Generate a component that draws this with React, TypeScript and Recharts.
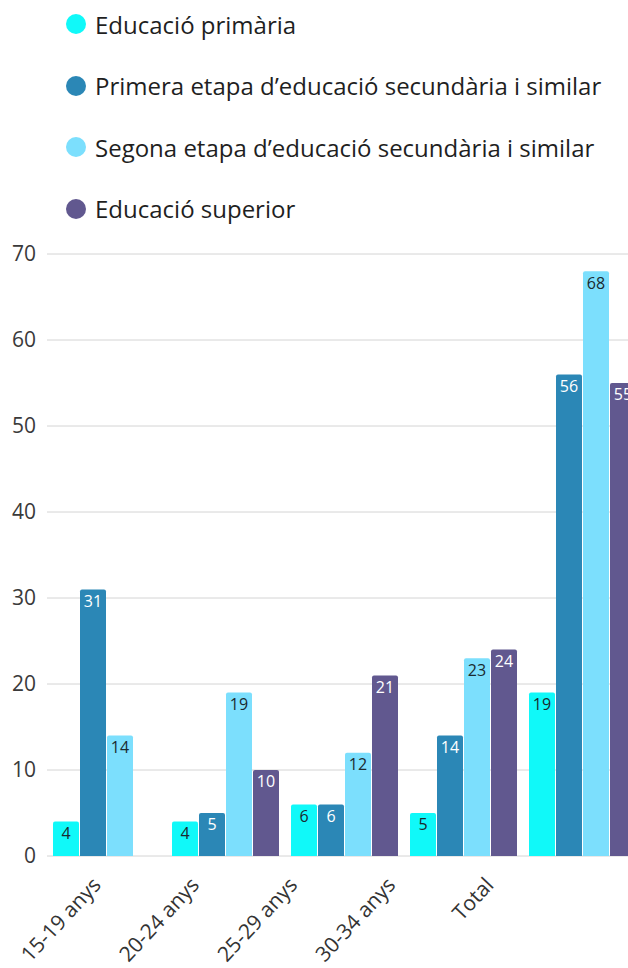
import React from "react";
import { BarChart, Bar, XAxis, YAxis, CartesianGrid, Legend, LabelList } from "recharts";

const FONT = "'Open Sans', sans-serif";

const groups = ["15-19 anys", "20-24 anys", "25-29 anys", "30-34 anys", "Total"];
const primaria = [4, 4, 6, 5, 19];
const primeraEtapa = [31, 5, 6, 14, 56];
const segonaEtapa = [14, 19, 12, 23, 68];
const superior = [0, 10, 21, 24, 55];
const yTicks = [0, 10, 20, 30, 40, 50, 60, 70];

const series = [
  { key: "primaria", name: "Educació primària", color: "#10F9F9", labelColor: "#1b2a30" },
  { key: "primeraEtapa", name: "Primera etapa d’educació secundària i similar", color: "#2B87B6", labelColor: "#ffffff" },
  { key: "segonaEtapa", name: "Segona etapa d’educació secundària i similar", color: "#7CDFFD", labelColor: "#1b2a30" },
  { key: "superior", name: "Educació superior", color: "#61588F", labelColor: "#ffffff" },
];

const data = groups.map((g, i) => ({
  group: g,
  primaria: primaria[i],
  primeraEtapa: primeraEtapa[i],
  segonaEtapa: segonaEtapa[i],
  superior: superior[i],
}));

const renderLegend = () => (
  <div style={{ height: 254, position: "relative", fontFamily: FONT }}>
    {series.map((s, i) => (
      <div
        key={s.key}
        style={{
          position: "absolute",
          left: 66,
          top: 10 + i * 61.5,
          height: 28,
          display: "flex",
          alignItems: "center",
          whiteSpace: "nowrap",
        }}
      >
        <span
          style={{
            width: 20,
            height: 20,
            borderRadius: "50%",
            background: s.color,
            marginRight: 9,
            display: "inline-block",
          }}
        />
        <span style={{ fontSize: 24, color: "#1f1f1f", fontStretch: "90%" }}>{s.name}</span>
      </div>
    ))}
  </div>
);

const XTick = (props: any) => {
  const { x, y, payload } = props;
  return (
    <text
      x={x}
      y={y}
      transform={`rotate(-47, ${x}, ${y})`}
      textAnchor="end"
      fontSize={21}
      fill="#333"
      fontFamily={FONT}
    >
      {payload.value}
    </text>
  );
};

const hideZero = (v: any) => (v === 0 ? "" : v);

export default function App() {
  return (
    <div style={{ position: "absolute", left: 0, top: 0, width: 628, height: 968, overflow: "hidden", background: "#fff" }}>
      <BarChart
        width={642}
        height={968}
        data={data}
        margin={{ top: 0, right: 0, bottom: 0, left: 0 }}
        barCategoryGap={6}
        barGap={1}
      >
        <CartesianGrid vertical={false} stroke="#d4d4d4" xAxisId="bars" />
        <XAxis xAxisId="bars" dataKey="group" hide />
        <XAxis
          xAxisId="labels"
          dataKey="group"
          height={112}
          padding={{ left: 6, right: 98 }}
          axisLine={false}
          tickLine={false}
          tickSize={0}
          tickMargin={0}
          interval={0}
          tick={<XTick />}
        />
        <YAxis
          domain={[0, 70]}
          ticks={yTicks}
          width={47}
          axisLine={false}
          tickLine={false}
          tickSize={0}
          tickMargin={11}
          tick={{ fontSize: 21, fill: "#3a3a3a", fontFamily: FONT }}
        />
        <Legend verticalAlign="top" align="left" layout="horizontal" content={renderLegend} />
        {series.map((s) => (
          <Bar
            key={s.key}
            xAxisId="bars"
            dataKey={s.key}
            name={s.name}
            fill={s.color}
            radius={[2, 2, 0, 0]}
            isAnimationActive={false}
          >
            <LabelList
              dataKey={s.key}
              position="insideTop"
              offset={6}
              fill={s.labelColor}
              fontSize={16}
              fontFamily={FONT}
              formatter={hideZero}
            />
          </Bar>
        ))}
      </BarChart>
    </div>
  );
}
